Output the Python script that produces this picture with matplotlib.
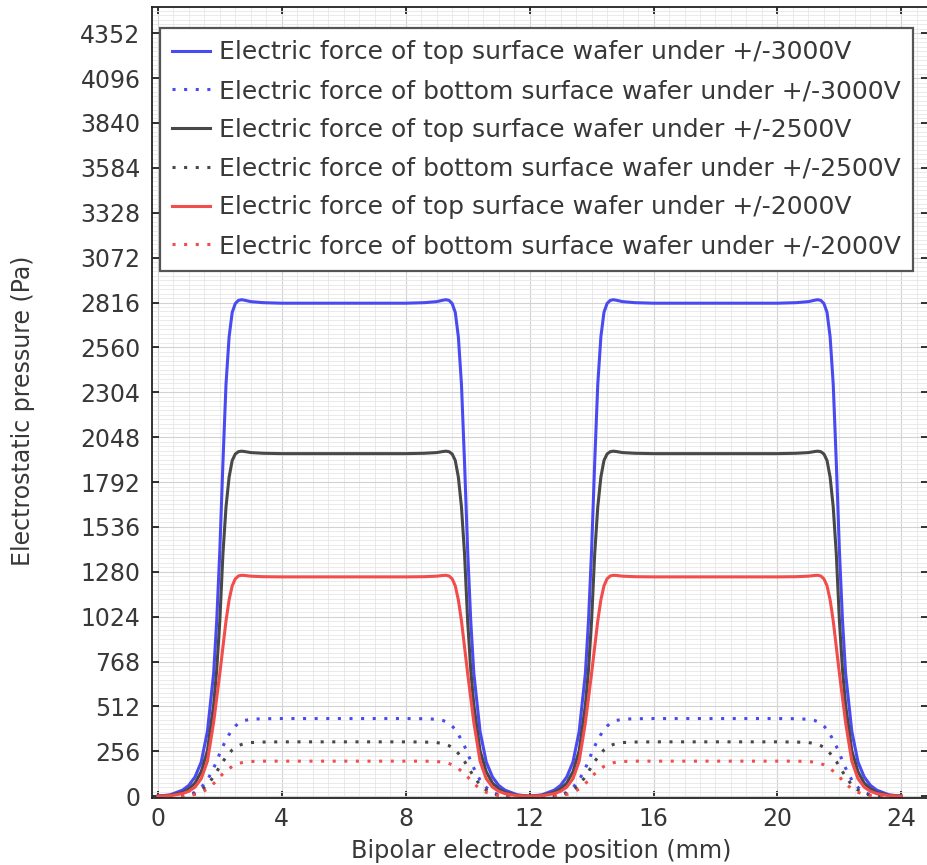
import numpy as np
import matplotlib
matplotlib.use("Agg")
import matplotlib.pyplot as plt
from matplotlib.ticker import MultipleLocator

# position along the bipolar electrode (mm)
x_mm = [0, 0.4, 0.8, 1.0, 1.2, 1.4, 1.6, 1.8, 1.9, 2.0, 2.1, 2.2, 2.3, 2.4, 2.5, 2.6, 2.7, 2.8, 3.0, 3.4, 4.0, 6.0,
        8.0, 8.6, 9.0, 9.2, 9.3, 9.4, 9.5, 9.6, 9.7, 9.8, 9.9, 10.0, 10.1, 10.2, 10.4, 10.6, 10.8, 11.0, 11.2, 11.6, 12.0,
        12.4, 12.8, 13.0, 13.2, 13.4, 13.6, 13.8, 13.9, 14.0, 14.1, 14.2, 14.3, 14.4, 14.5, 14.6, 14.7, 14.8, 15.0, 15.4, 16.0, 18.0,
        20.0, 20.6, 21.0, 21.2, 21.3, 21.4, 21.5, 21.6, 21.7, 21.8, 21.9, 22.0, 22.1, 22.2, 22.4, 22.6, 22.8, 23.0, 23.2, 23.6, 24.0]

# electrostatic pressure (Pa), top surface of wafer
top_3000 = [0, 8, 35, 62, 110, 195, 370, 700, 1000, 1400, 1900, 2350, 2620, 2760, 2810, 2828, 2832, 2829, 2821, 2815, 2812, 2812,
            2812, 2815, 2821, 2829, 2832, 2828, 2810, 2760, 2620, 2350, 1900, 1400, 1000, 700, 370, 195, 110, 62, 35, 8, 0,
            8, 35, 62, 110, 195, 370, 700, 1000, 1400, 1900, 2350, 2620, 2760, 2810, 2828, 2832, 2829, 2821, 2815, 2812, 2812,
            2812, 2815, 2821, 2829, 2832, 2828, 2810, 2760, 2620, 2350, 1900, 1400, 1000, 700, 370, 195, 110, 62, 35, 8, 0]
top_2500 = [0, 5, 22, 42, 75, 140, 260, 520, 720, 1000, 1380, 1650, 1820, 1915, 1952, 1965, 1968, 1966, 1960, 1956, 1954, 1954,
            1954, 1956, 1960, 1966, 1968, 1965, 1952, 1915, 1820, 1650, 1380, 1000, 720, 520, 260, 140, 75, 42, 22, 5, 0,
            5, 22, 42, 75, 140, 260, 520, 720, 1000, 1380, 1650, 1820, 1915, 1952, 1965, 1968, 1966, 1960, 1956, 1954, 1954,
            1954, 1956, 1960, 1966, 1968, 1965, 1952, 1915, 1820, 1650, 1380, 1000, 720, 520, 260, 140, 75, 42, 22, 5, 0]
top_2000 = [0, 3, 15, 28, 52, 100, 200, 420, 560, 700, 850, 1000, 1120, 1200, 1240, 1256, 1260, 1259, 1255, 1252, 1251, 1251,
            1251, 1252, 1255, 1259, 1260, 1256, 1240, 1200, 1120, 1000, 850, 700, 560, 420, 200, 100, 52, 28, 15, 3, 0,
            3, 15, 28, 52, 100, 200, 420, 560, 700, 850, 1000, 1120, 1200, 1240, 1256, 1260, 1259, 1255, 1252, 1251, 1251,
            1251, 1252, 1255, 1259, 1260, 1256, 1240, 1200, 1120, 1000, 850, 700, 560, 420, 200, 100, 52, 28, 15, 3, 0]

# electrostatic pressure (Pa), bottom surface of wafer
bot_3000 = [0, 0, 3, 8, 22, 50, 92, 160, 200, 245, 285, 320, 352, 380, 400, 415, 425, 432, 439, 442, 443, 443,
            443, 442, 439, 432, 425, 415, 400, 380, 352, 320, 285, 245, 200, 160, 92, 50, 22, 8, 3, 0, 0,
            0, 3, 8, 22, 50, 92, 160, 200, 245, 285, 320, 352, 380, 400, 415, 425, 432, 439, 442, 443, 443,
            443, 442, 439, 432, 425, 415, 400, 380, 352, 320, 285, 245, 200, 160, 92, 50, 22, 8, 3, 0, 0]
bot_2500 = [0, 0, 2, 6, 15, 35, 64, 112, 140, 170, 198, 222, 244, 264, 278, 288, 295, 300, 306, 309, 310, 310,
            310, 309, 306, 300, 295, 288, 278, 264, 244, 222, 198, 170, 140, 112, 64, 35, 15, 6, 2, 0, 0,
            0, 2, 6, 15, 35, 64, 112, 140, 170, 198, 222, 244, 264, 278, 288, 295, 300, 306, 309, 310, 310,
            310, 309, 306, 300, 295, 288, 278, 264, 244, 222, 198, 170, 140, 112, 64, 35, 15, 6, 2, 0, 0]
bot_2000 = [0, 0, 1, 4, 10, 22, 41, 72, 90, 110, 128, 143, 157, 170, 179, 186, 191, 194, 198, 200, 200, 200,
            200, 200, 198, 194, 191, 186, 179, 170, 157, 143, 128, 110, 90, 72, 41, 22, 10, 4, 1, 0, 0,
            0, 1, 4, 10, 22, 41, 72, 90, 110, 128, 143, 157, 170, 179, 186, 191, 194, 198, 200, 200, 200,
            200, 200, 198, 194, 191, 186, 179, 170, 157, 143, 128, 110, 90, 72, 41, 22, 10, 4, 1, 0, 0]

labels = ["Electric force of top surface wafer under +/-3000V",
          "Electric force of bottom surface wafer under +/-3000V",
          "Electric force of top surface wafer under +/-2500V",
          "Electric force of bottom surface wafer under +/-2500V",
          "Electric force of top surface wafer under +/-2000V",
          "Electric force of bottom surface wafer under +/-2000V"]

y_ticks = list(range(0, 4353, 256))
x_ticks = [0, 4, 8, 12, 16, 20, 24]

blue = '#4a4af2'
black = '#484848'
red = '#f24c4c'
txt = '#383838'
dots = (0, (1, 2.8))

fig = plt.figure(figsize=(9.27, 8.65), dpi=100)
ax = fig.add_axes([0.1636, 0.0771, 0.8375, 0.9145])

ax.plot(x_mm, top_3000, color=blue, lw=2.2, label=labels[0])
ax.plot(x_mm, bot_3000, color=blue, lw=2.2, ls=dots, label=labels[1])
ax.plot(x_mm, top_2500, color=black, lw=2.2, label=labels[2])
ax.plot(x_mm, bot_2500, color=black, lw=2.2, ls=dots, label=labels[3])
ax.plot(x_mm, top_2000, color=red, lw=2.2, label=labels[4])
ax.plot(x_mm, bot_2000, color=red, lw=2.2, ls=dots, label=labels[5])

ax.set_xlim(-0.2, 24.86)
ax.set_ylim(-12, 4500)
ax.set_xticks(x_ticks)
ax.set_yticks(y_ticks)
ax.xaxis.set_minor_locator(MultipleLocator(0.5))
ax.yaxis.set_minor_locator(MultipleLocator(25.6))
ax.grid(which='major', color='#d2d2d2', lw=0.8)
ax.grid(which='minor', color='#e6e6e6', lw=0.6)
ax.set_axisbelow(True)

ax.tick_params(which='major', direction='in', length=5, width=1.3, top=True, right=True,
               labelsize=17, labelcolor=txt, color='#222222')
ax.tick_params(axis='y', pad=8)
ax.tick_params(axis='x', pad=6)
ax.tick_params(which='minor', length=0)
for s in ax.spines.values():
    s.set_linewidth(1.3)
    s.set_color('#222222')

ax.set_xlabel("Bipolar electrode position (mm)", fontsize=17.3, color=txt)
ax.set_ylabel("Electrostatic pressure (Pa)", fontsize=17, color=txt)
ax.xaxis.set_label_coords(0.502, -0.051)
ax.yaxis.set_label_coords(-0.1505, 0.49)

leg = ax.legend(loc='upper left', bbox_to_anchor=(0.0107, 0.974), borderaxespad=0,
                fontsize=18, handlelength=1.5, handletextpad=0.36, borderpad=0.5,
                labelspacing=0.59, fancybox=False, framealpha=1)
leg.get_frame().set_edgecolor('#555555')
leg.get_frame().set_linewidth(1.6)
for t in leg.get_texts():
    t.set_color(txt)

fig.savefig("out.png", dpi=100)
